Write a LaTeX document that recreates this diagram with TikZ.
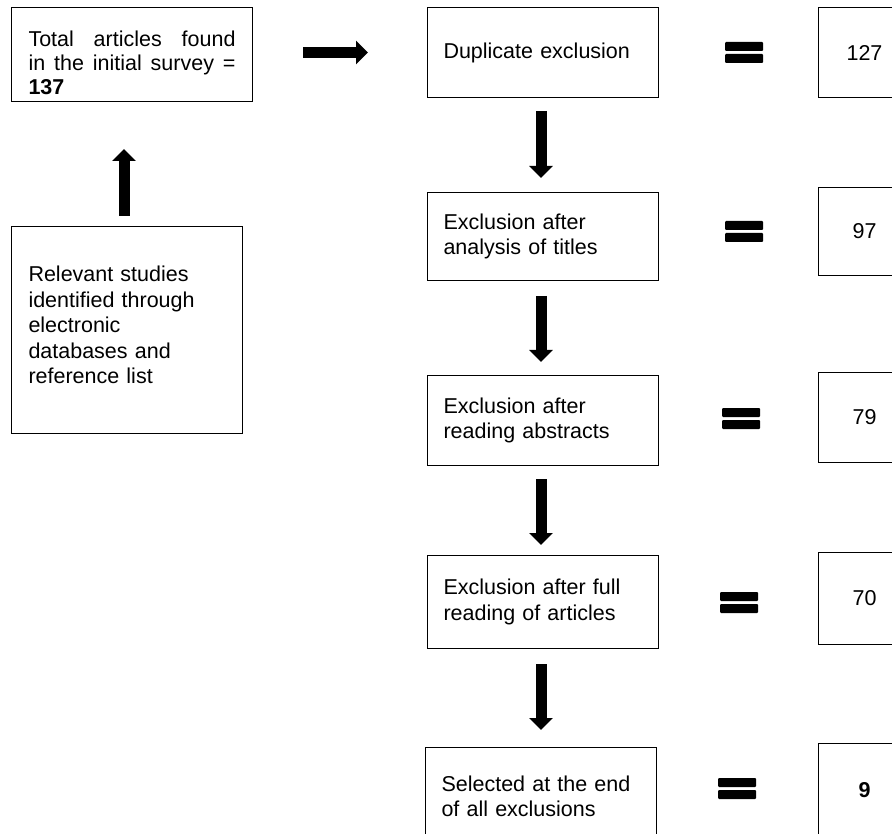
\documentclass[tikz,border=0pt]{standalone}
\usepackage{fontspec}
\setmainfont{Liberation Sans}
\usetikzlibrary{arrows.meta}
\begin{document}
\begin{tikzpicture}[x=1pt,y=-1pt,
  box/.style={draw=black, line width=1pt, anchor=north west, inner xsep=16pt, inner ysep=0pt,
    font=\fontsize{21.5}{25.5}\selectfont, align=left},
  frame/.style={draw=black, line width=1pt, anchor=north west, inner sep=0pt},
  txt/.style={inner sep=0pt, font=\fontsize{21.5}{25.5}\selectfont},
  numbox/.style={box, text width=60pt, align=center},
  bigarrow/.style={line width=11pt, -{Triangle[width=23pt,length=12pt]}},
  eqbar/.style={fill=black, rounded corners=1pt}
]
\useasboundingbox (0,0) rectangle (892,834);
\clip (0,0) rectangle (892,834);

% left column
\node[frame, minimum width=241pt, minimum height=94pt] (A) at (11,7) {};
\node[txt, text width=207pt, align=justify, font=\fontsize{21.5}{24}\selectfont] (At) at ([yshift=-8pt]A.center)
  {Total articles found\linebreak in the initial survey =\linebreak \textbf{137}};
\node[frame, minimum width=231pt, minimum height=207pt] (C) at (11,226) {};
\node[txt, text width=197pt, align=left] (Ct) at ([yshift=5pt]C.center)
  {Relevant studies\\identified through\\electronic\\databases and\\reference list};

% middle column
\node[box, text width=199pt, minimum height=90pt] (B) at (427,7) {Duplicate exclusion};
\node[box, text width=199pt, minimum height=88pt] (D) at (427,192) {Exclusion after\\analysis of titles};
\node[box, text width=199pt, minimum height=90pt] (E) at (427,375) {Exclusion after\\reading abstracts};
\node[box, text width=199pt, minimum height=93pt] (F) at (427,555) {Exclusion after full\\reading of articles};
\node[box, text width=199pt, minimum height=98pt] (G) at (425,747) {Selected at the end\\of all exclusions};

% right column
\node[numbox, minimum height=90pt] (R1) at (818,7) {127};
\node[numbox, minimum height=88pt] (R2) at (818,187) {97};
\node[numbox, minimum height=90pt] (R3) at (818,372) {79};
\node[numbox, minimum height=92pt] (R4) at (818,552) {70};
\node[numbox, minimum height=94pt] (R5) at (818,743) {\textbf{9}};

% arrows
\draw[bigarrow, shorten <=50pt, shorten >=59pt] (A.east |- B.west) -- (B.west);
\draw[bigarrow, shorten <=10pt, shorten >=47pt] ([xshift=-3pt]C.north) -- ([xshift=-3pt]C.north |- A.south);
\draw[bigarrow, shorten <=13pt, shorten >=14pt] ([xshift=-2pt]B.south) -- ([xshift=-2pt]D.north);
\draw[bigarrow, shorten <=15pt, shorten >=13pt] ([xshift=-2pt]D.south) -- ([xshift=-2pt]E.north);
\draw[bigarrow, shorten <=13pt, shorten >=10pt] ([xshift=-2pt]E.south) -- ([xshift=-2pt]F.north);
\draw[bigarrow, shorten <=15pt, shorten >=17pt] ([xshift=-2pt]F.south) -- ([xshift=-2pt]F.south |- G.north);

% equals signs
\fill[eqbar] (725,42) rectangle (763,51);
\fill[eqbar] (725,54) rectangle (763,63);
\fill[eqbar] (725,221) rectangle (763,230);
\fill[eqbar] (725,233) rectangle (763,242);
\fill[eqbar] (722,408) rectangle (760,417);
\fill[eqbar] (722,420) rectangle (760,429);
\fill[eqbar] (720,592) rectangle (758,601);
\fill[eqbar] (720,604) rectangle (758,613);
\fill[eqbar] (718,778) rectangle (756,787);
\fill[eqbar] (718,790) rectangle (756,799);
\end{tikzpicture}
\end{document}
